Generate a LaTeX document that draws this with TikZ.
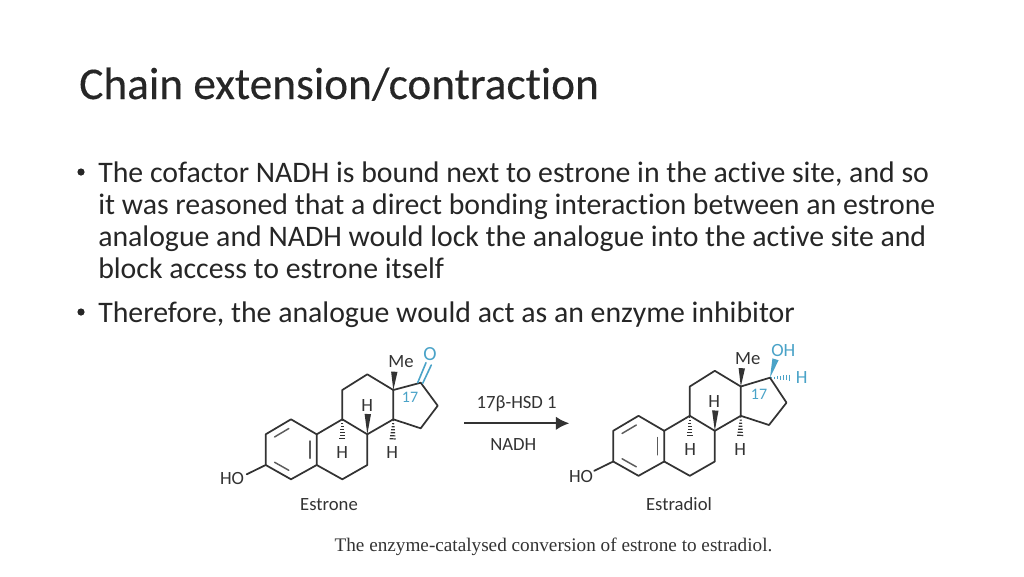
\documentclass[tikz,border=0pt]{standalone}
\usepackage{fontspec}
\setmainfont{Carlito}[Ligatures=CommonOff]
\newfontfamily\titlefont{Carlito}[Ligatures=CommonOff,FakeBold=0.25]
\newfontfamily\capfont{Liberation Serif}[Ligatures=Rare]
\usetikzlibrary{calc,arrows.meta}
\definecolor{ink}{HTML}{333333}
\definecolor{slate}{HTML}{262626}
\definecolor{chemblue}{HTML}{4AA3C8}
\tikzset{
  bond/.style={draw=ink,line width=1.3pt,line join=round,line cap=round},
  inner bond/.style={draw=ink!80,line width=1.1pt,line cap=round},
  atom/.style={inner sep=0pt,text=ink,font=\fontsize{14}{14}\selectfont},
  bluebond/.style={draw=chemblue,line width=1.2pt,line cap=round},
  blueatom/.style={atom,text=chemblue},
  bodyline/.style={inner sep=0pt,anchor=base west,text=slate,font=\fontsize{22.35}{22.35}\selectfont},
  bulletdot/.style={circle,fill=slate,inner sep=0pt,minimum size=5.4pt},
}
% wedge: #1 colour, #2 from, #3 to
\newcommand{\wedgebond}[3][ink]{\fill[#1] (#2) -- ($(#3)!2.4pt!90:(#2)$) -- ($(#3)!2.4pt!-90:(#2)$) -- cycle;}
% hashed: #1 colour, #2 from, #3 to
\newcommand{\hashbond}[3][ink]{\foreach \t/\w in {.06/.5,.2/.8,.34/1.1,.48/1.4,.62/1.7,.76/2,.9/2.3,1/2.6}{
  \draw[#1,line width=.9pt] ($(#2)!\t!(#3)!\w pt!90:(#3)$) -- ($(#2)!\t!(#3)!\w pt!-90:(#3)$);}}
\newcommand{\skeleton}[1]{
  \coordinate (#1c1) at (291,419.3);
  \coordinate (#1c2) at (265.7,434.3);
  \coordinate (#1c3) at (265.7,465);
  \coordinate (#1c4) at (291,479.3);
  \coordinate (#1c5) at (316.7,465);
  \coordinate (#1c10) at (316.7,434.3);
  \coordinate (#1c6) at (342.3,479.3);
  \coordinate (#1c7) at (367.3,465);
  \coordinate (#1c8) at (367.3,434.3);
  \coordinate (#1c9) at (342.3,419.3);
  \coordinate (#1c11) at (342.3,390);
  \coordinate (#1c12) at (367.3,374.3);
  \coordinate (#1c13) at (393.3,390);
  \coordinate (#1c14) at (393.3,419.3);
  \coordinate (#1ring) at (291.2,449.6);
  \coordinate (#1ho) at (246.7,474.3);
  \coordinate (#1me) at (394.3,371.7);
  \coordinate (#1h8) at (367.8,414);
  \coordinate (#1h9) at (342.3,441);
  \coordinate (#1h14) at (392.6,441);
  \draw[bond] (#1c1) -- (#1c2) -- (#1c3) -- (#1c4) -- (#1c5) -- (#1c10) -- cycle;
  \draw[bond] (#1c5) -- (#1c6) -- (#1c7) -- (#1c8) -- (#1c9) -- (#1c10);
  \draw[bond] (#1c9) -- (#1c11) -- (#1c12) -- (#1c13) -- (#1c14) -- (#1c8);
  \draw[bond] (#1c3) -- (#1ho);
  \draw[inner bond] ($(#1ring)!.74!($(#1c1)!.12!(#1c2)$)$) -- ($(#1ring)!.74!($(#1c2)!.12!(#1c1)$)$);
  \draw[inner bond] ($(#1ring)!.74!($(#1c3)!.12!(#1c4)$)$) -- ($(#1ring)!.74!($(#1c4)!.12!(#1c3)$)$);
  \draw[inner bond] ($(#1ring)!.74!($(#1c5)!.12!(#1c10)$)$) -- ($(#1ring)!.74!($(#1c10)!.12!(#1c5)$)$);
  \wedgebond{#1c13}{#1me}
  \wedgebond{#1c8}{#1h8}
  \hashbond{#1c9}{#1h9}
  \hashbond{#1c14}{#1h14}
}
\begin{document}
\begin{tikzpicture}[x=.75pt,y=-.75pt]
\useasboundingbox (0,0) rectangle (1024,576);
\fill[white] (0,0) rectangle (1024,576);
% title
\node[inner sep=0pt,anchor=base west,text=slate,font=\titlefont\fontsize{34}{34}\selectfont] (title) at (79,99) {Chain extension/contraction};
% body
\node[bulletdot] (b1) at (81,172) {};
\node[bodyline] (l1) at (98,182) {The cofactor NADH is bound next to estrone in the active site, and so};
\node[bodyline] (l2) at (98,214) {it was reasoned that a direct bonding interaction between an estrone};
\node[bodyline] (l3) at (98,246) {analogue and NADH would lock the analogue into the active site and};
\node[bodyline] (l4) at (98,278) {block access to estrone itself};
\node[bulletdot] (b2) at (81,312) {};
\node[bodyline] (l5) at (98,322) {Therefore, the analogue would act as an enzyme inhibitor};
% estrone
\begin{scope}
  \skeleton{a}
  \coordinate (ac15) at (420.7,428.3);
  \coordinate (ac16) at (437.7,405.7);
  \coordinate (ac17) at (420.7,382.7);
  \draw[bond] (ac14) -- (ac15) -- (ac16) -- (ac17) -- (ac13);
  \coordinate (ao1) at (426,362.7);
  \coordinate (ao2) at (431.3,365);
  \draw[bluebond] ($(ac17)+(-3,0)$) -- (ao1);
  \draw[bluebond] ($(ac17)+(2,.6)$) -- (ao2);
  \node[blueatom,font=\fontsize{15}{15}\selectfont] (aO) at (430,354) {O};
  \node[atom] (aHO) at (232,478.3) {HO};
  \node[atom] (aMe) at (401,362) {Me};
  \node[atom] (aH8) at (367.3,406) {H};
  \node[atom] (aH9) at (342.3,452.7) {H};
  \node[atom] (aH14) at (392.3,452.7) {H};
  \node[blueatom,font=\fontsize{12}{12}\selectfont] (a17) at (410,397.7) {17};
  \node[atom] (aname) at (329,504.7) {Estrone};
\end{scope}
% estradiol
\begin{scope}[shift={(347.5,-3.5)}]
  \skeleton{e}
  \coordinate (ec15) at (421.5,428.5);
  \coordinate (ec16) at (439,406.2);
  \coordinate (ec17) at (422.5,381.2);
  \draw[bond] (ec14) -- (ec15) -- (ec16) -- (ec17) -- (ec13);
  \coordinate (eoh) at (428,362.8);
  \coordinate (ehh) at (444.2,381.2);
  \wedgebond[chemblue]{ec17}{eoh}
  \hashbond[chemblue]{ec17}{ehh}
  \node[blueatom] (eOH) at (435.8,354.2) {OH};
  \node[blueatom] (eH17) at (454.2,381.2) {H};
  \node[atom] (eHO) at (233.5,479.5) {HO};
  \node[atom] (eMe) at (400.2,362.5) {Me};
  \node[atom] (eH8) at (366.8,405.2) {H};
  \node[atom] (eH9) at (342.8,452.8) {H};
  \node[atom] (eH14) at (392.8,452.8) {H};
  \node[blueatom,font=\fontsize{12}{12}\selectfont] (e17) at (411.5,397.5) {17};
  \node[atom] (ename) at (331.5,507.8) {Estradiol};
\end{scope}
% reaction arrow
\coordinate (rs) at (464,423.3);
\coordinate (re) at (569.3,423.3);
\draw[ink,line width=1.4pt,-{Latex[length=10pt,width=10pt]}] (rs) -- (re);
\node[atom] (enz) at (516.7,403.3) {17β-HSD 1};
\node[atom] (nadh) at (513.3,444.3) {NADH};
\node[inner sep=0pt,text=ink,font=\capfont\fontsize{14.4}{14.4}\selectfont] (cap) at (553.5,546.5) {The enzyme-catalysed conversion of estrone to estradiol.};
\end{tikzpicture}
\end{document}
